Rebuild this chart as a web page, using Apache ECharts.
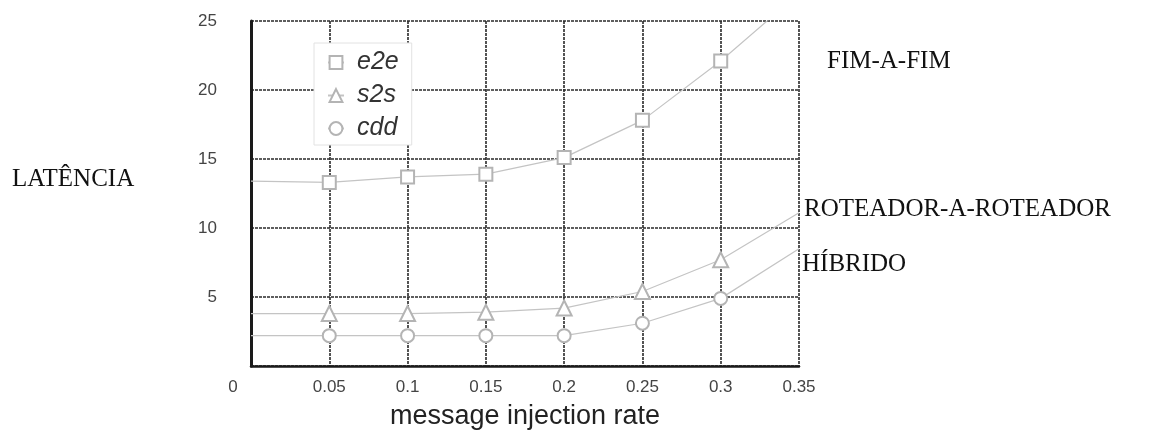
<!DOCTYPE html>
<html>
<head>
<meta charset="utf-8">
<script src="https://cdn.jsdelivr.net/npm/echarts@6/dist/echarts.min.js"></script>
<style>
  html, body { margin: 0; padding: 0; background: #fff; }
  #chart { width: 1152px; height: 430px; }
</style>
</head>
<body>
<div id="chart"></div>
<script>
// taxa de injeção (eixo x) e latência das três séries
const rates = [0, 0.05, 0.1, 0.15, 0.2, 0.25, 0.3, 0.35]
const e2e = [13.4, 13.3, 13.7, 13.9, 15.1, 17.8, 22.1, 27.0]
const s2s = [3.8, 3.8, 3.8, 3.9, 4.2, 5.4, 7.7, 11.1]
const cdd = [2.2, 2.2, 2.2, 2.2, 2.2, 3.1, 4.9, 8.5]

const SERIF = '"Liberation Serif", "Times New Roman", serif'
const SANS = '"Liberation Sans", Arial, sans-serif'

// pontos nas bordas (0 e 0.35) sem marcador
function points(values) {
  return values.map((v, i) => {
    const p = { value: [rates[i], v] }
    if (i === 0 || i === rates.length - 1) p.symbol = 'none'
    return p
  })
}

function makeSeries(name, values, symbol, size) {
  return {
    name,
    type: 'line',
    data: points(values),
    symbol,
    symbolSize: size,
    showAllSymbol: true,
    clip: true,
    lineStyle: { color: '#c4c4c4', width: 1.2 },
    itemStyle: { color: '#b4b4b4', borderColor: '#b4b4b4', borderWidth: 1 },
    emphasis: { disabled: true },
    animation: false
  }
}

const gridLine = { show: true, lineStyle: { color: '#2a2a2a', width: 1.6, type: [3, 1] } }

const chart = echarts.init(document.getElementById('chart'))
chart.setOption({
  animation: false,
  grid: { left: 251, right: 353, top: 21, bottom: 64, containLabel: false, outerBoundsMode: 'none' },
  legend: {
    left: 314,
    top: 43,
    orient: 'vertical',
    backgroundColor: '#fff',
    borderColor: '#e2e2e2',
    borderWidth: 1,
    padding: [7, 13, 4, 13],
    itemWidth: 16,
    itemHeight: 16,
    itemGap: 8,
    textStyle: { fontFamily: SANS, fontStyle: 'italic', fontSize: 25, color: '#333', padding: [0, 0, 0, 8] },
    data: ['e2e', 's2s', 'cdd']
  },
  xAxis: {
    type: 'value',
    min: 0,
    max: 0.35,
    interval: 0.05,
    name: 'message injection rate',
    nameLocation: 'middle',
    nameGap: 37,
    nameTextStyle: { fontFamily: SANS, fontSize: 27, color: '#222' },
    axisLine: { show: true, lineStyle: { color: '#1a1a1a', width: 2.5 } },
    axisTick: { show: false },
    splitLine: gridLine,
    axisLabel: {
      margin: 13,
      fontFamily: SANS,
      fontSize: 17,
      color: '#444',
      formatter: v => (v === 0 ? '{z|0}' : String(+v.toFixed(2))),
      rich: { z: { fontFamily: SANS, fontSize: 17, color: '#444', padding: [0, 36, 0, 0] } }
    }
  },
  yAxis: {
    type: 'value',
    min: 0,
    max: 25,
    interval: 5,
    axisLine: { show: true, lineStyle: { color: '#1a1a1a', width: 3 } },
    axisTick: { show: false },
    splitLine: gridLine,
    axisLabel: {
      margin: 34,
      showMinLabel: false,
      fontFamily: SANS,
      fontSize: 17,
      color: '#444'
    }
  },
  series: [
    makeSeries('e2e', e2e, 'emptyRect', 13),
    makeSeries('s2s', s2s, 'emptyTriangle', 15),
    makeSeries('cdd', cdd, 'emptyCircle', 13)
  ],
  graphic: [
    { type: 'text', left: 12, top: 167, style: { text: 'LATÊNCIA', font: '25px ' + SERIF, fill: '#111' } },
    { type: 'text', left: 827, top: 49, style: { text: 'FIM-A-FIM', font: '25px ' + SERIF, fill: '#111' } },
    { type: 'text', left: 804, top: 197, style: { text: 'ROTEADOR-A-ROTEADOR', font: '25px ' + SERIF, fill: '#111' } },
    { type: 'text', left: 802, top: 252, style: { text: 'HÍBRIDO', font: '25px ' + SERIF, fill: '#111' } }
  ]
})
</script>
</body>
</html>
